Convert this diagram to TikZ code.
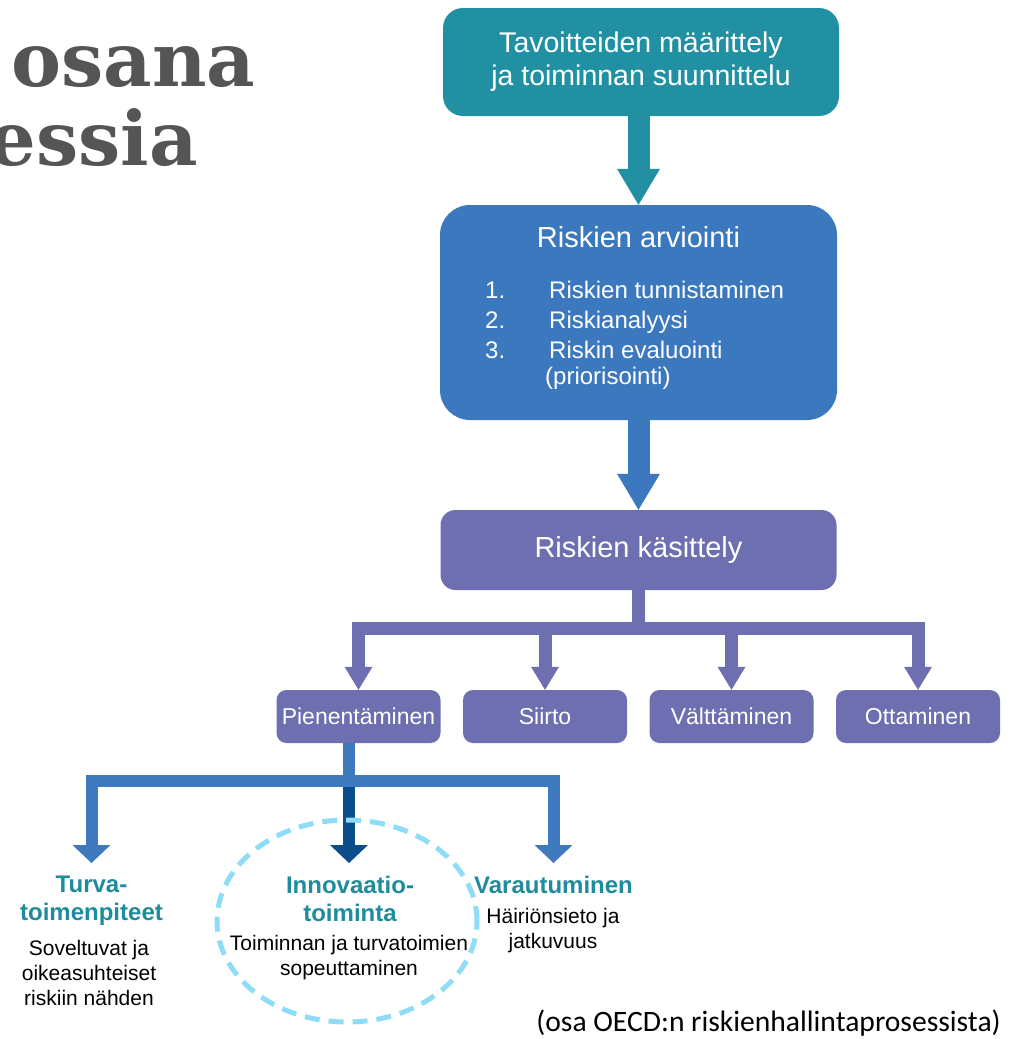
\documentclass[tikz,border=0pt]{standalone}
\usepackage{fontspec}
\setmainfont{Liberation Sans}
\newfontfamily\headfont{DejaVu Serif}
\newfontfamily\notefont{Carlito}
\usetikzlibrary{positioning,arrows.meta,calc}
\definecolor{cteal}{HTML}{2190A3}
\definecolor{cblue}{HTML}{3C78BD}
\definecolor{cpurp}{HTML}{6E6FB1}
\definecolor{clblue}{HTML}{3F7ABF}
\definecolor{cdblue}{HTML}{0B4C8A}
\definecolor{cring}{HTML}{8FDCF8}
\definecolor{clabel}{HTML}{1E8C9C}
\definecolor{chead}{HTML}{555555}

\begin{document}
\begin{tikzpicture}[x=1pt,y=1pt,
   goalbox/.style={fill=cteal, rounded corners=20pt, minimum width=396pt, minimum height=108pt, text=white, align=center, font=\fontsize{28.5}{33}\selectfont},
   evalbox/.style={fill=cblue, rounded corners=30pt, minimum width=397pt, minimum height=215pt},
   treatbox/.style={fill=cpurp, rounded corners=15pt, minimum width=396pt, minimum height=80pt, text=white, font=\fontsize{29}{34}\selectfont},
   optbox/.style={fill=cpurp, rounded corners=10pt, minimum width=164pt, minimum height=53pt, inner sep=0pt, text=white, font=\fontsize{23}{27}\selectfont},
   heading/.style={text=chead, inner sep=0pt, font=\headfont\bfseries\fontsize{75}{82}\selectfont},
   lbl/.style={text=clabel, align=center, inner xsep=0pt, inner ysep=13pt, anchor=north, font=\bfseries\fontsize{24}{28}\selectfont},
   desc/.style={align=center, inner sep=0pt, anchor=base, font=\fontsize{21}{25}\selectfont},
   fat/.style={line width=22pt, -{Triangle[length=36pt,width=43pt,line width=0pt]}},
   branch/.style={line width=13pt, -{Triangle[length=23pt,width=28pt,line width=0pt]}},
   lowbranch/.style={line width=12pt, -{Triangle[length=18pt,width=38pt,line width=0pt]}},
   ring/.style={draw=cring, line width=5pt, dash pattern=on 15pt off 9pt}]
  \fill[white] (0,0) rectangle (1011,-1039);
  \useasboundingbox (0,0) rectangle (1011,-1039);
  % heading, cut at the left edge
  \begin{scope}
    \clip (0,0) rectangle (1011,-1039);
    \node[heading, anchor=base west] (head1) at (11,-86) {osana};
    \node[heading, anchor=base east] (head2) at (198,-165) {essia};
  \end{scope}
  % main chain
  \node[goalbox] (goal) at (641,-62) {Tavoitteiden määrittely\\ja toiminnan suunnittelu};
  \node[evalbox] (eval) at (638.5,-312.5) {};
  \node[text=white, anchor=base, font=\fontsize{29}{34}\selectfont] (evaltitle) at (638.5,-247) {Riskien arviointi};
  \node[text=white, anchor=base west, inner sep=0pt, font=\fontsize{24}{30}\selectfont] (evallist) at (485,-298)
     {\begin{tabular}[t]{@{}p{64pt}@{}l@{}}
        1. & Riskien tunnistaminen\\
        2. & Riskianalyysi\\
        3. & Riskin evaluointi\\[-4pt]
           & \hspace*{-4pt}(priorisointi)
      \end{tabular}};
  \node[treatbox] (treat) at (638.5,-550) {Riskien käsittely};
  \draw[fat, cteal] (eval.north |- goal.south) -- (eval.north);
  \draw[fat, cblue] (eval.south) -- (treat.north);
  % treatment options
  \node[optbox] (reduce) at (358.5,-716.5) {Pienentäminen};
  \node[optbox] (transfer) at (545,-716.5) {Siirto};
  \node[optbox] (avoid) at (731.5,-716.5) {Välttäminen};
  \node[optbox] (accept) at (918,-716.5) {Ottaminen};
  \coordinate (tbar) at ([yshift=-38.5pt]treat.south);
  \draw[branch, cpurp] (treat.south) -- (tbar) -| (reduce.north);
  \draw[branch, cpurp] (tbar) -| (transfer.north);
  \draw[branch, cpurp] (tbar) -| (avoid.north);
  \draw[branch, cpurp] (tbar) -| (accept.north);
  % ways to reduce
  \node[lbl] (safety) at (91.5,-863) {Turva-\\toimenpiteet};
  \node[lbl] (innov) at (350,-863) {Innovaatio-\\toiminta};
  \node[lbl] (prep) at (553.5,-863) {Varautuminen};
  \node[desc] (safetytxt) at (89,-1005) {Soveltuvat ja\\oikeasuhteiset\\riskiin nähden};
  \node[desc] (innovtxt) at (349,-975) {Toiminnan ja turvatoimien\\sopeuttaminen};
  \node[desc] (preptxt) at (553,-948) {Häiriönsieto ja\\jatkuvuus};
  \coordinate (rbar) at (349,-781);
  \draw[lowbranch, clblue] (rbar |- reduce.south) -- (rbar) -| (safety.north);
  \draw[lowbranch, clblue] (rbar) -| (prep.north);
  \draw[lowbranch, cdblue] ([yshift=-6pt]rbar) -- (rbar |- innov.north);
  \coordinate (ringc) at (347,-921);
  \draw[ring] (ringc) ellipse [x radius=130, y radius=101];
  % source
  \node[anchor=base east, inner sep=0pt, font=\notefont\fontsize{29.6}{34}\selectfont] (source) at (1001,-1031) {(osa OECD:n riskienhallintaprosessista)};
\end{tikzpicture}
\end{document}
